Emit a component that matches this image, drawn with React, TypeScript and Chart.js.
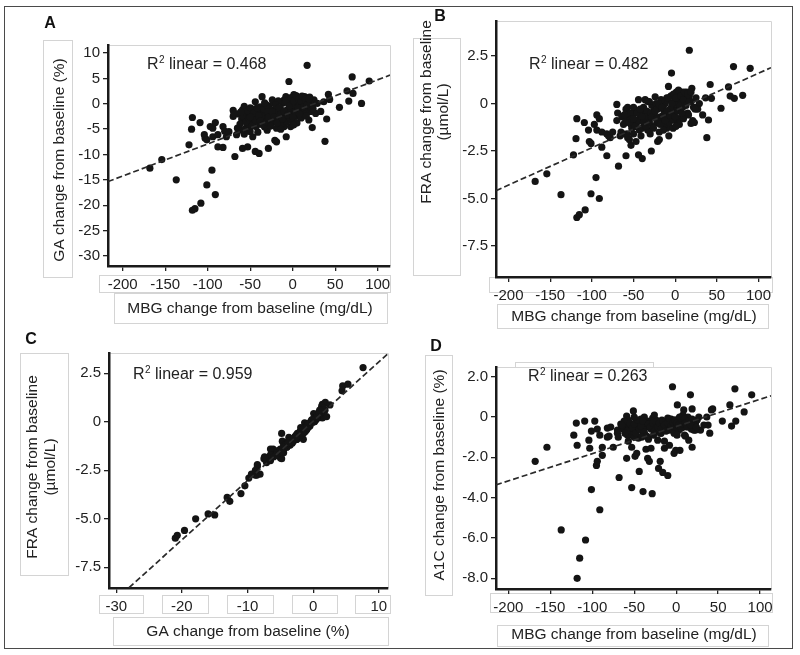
import React, { useEffect, useRef } from "react";
import { Chart, registerables } from "chart.js";

Chart.register(...registerables);

const FONT = '"Liberation Sans", Arial, Helvetica, sans-serif';

// One entry per patient: MBG, GA, FRA, A1C change from baseline
const MBG = [
  -168, -154, -137, -122, -118, -115, -108, -101, -95, -91,
  -118, -119, -109, -104, -103, -101, -97, -94, -91, -94,
  -88, -88, -82, -82, -80, -78, -75, -70, -70, -69,
  -68, -66, -63, -59, -57, -59, -53, -55, -53, -51,
  -49, -47, -45, -47, -44, -43, -41, -39.5, -44, -36,
  -36, -34, -32, -30, -28.6, -28, -26, -24, -22, -19,
  -21, -18, -16, -14, -12, -10, -10, -8, -8, -7.6,
  -4.4, -4.4, -2.5, -2.5, -0.5, 1.4, 1.4, 5, 9, 3.4,
  7, 11, 4.5, 17, 13, 17, 19, 15, 21, 23,
  19, 23, 25, 29, 27, 33, 36.5, 38, 40, 42,
  43.5, 55, 64, 66, 70, 71, 81, 90,
  -60, -56, -52, -48, -46, -42, -40, -38, -36, -34,
  -33, -31, -30, -27, -25, -23, -21, -19, -17, -15,
  -13, -11, -9, -7, -5, -3, -1, 0, 2, 3,
  5, 6, 8, 9, 10, 12, 14, 16, 18, 20,
  22, -64, -62, -58, -54, -50, -45, -37, -29, -14,
  -6, 1,
  -58, -55, -52, -50, -48, -46, -44, -42, -40, -38,
  -35, -33, -31, -28, -26, -24, -22, -20, -18, -16,
  -14, -12, -10, -8, -6, -4, -2, 0, 1, 3,
  4, 6, 7, 8, 10, 11, 13, 15, 17, 19,
  24, -65, -61, -57, -50, -41,
];

const GA = [
  -12.7, -11.0, -15.0, -8.1, -21.0, -20.7, -19.6, -16.0, -13.1, -17.9,
  -2.7, -5.0, -3.7, -6.1, -6.8, -7.1, -4.5, -4.8, -3.7, -6.5,
  -6.1, -8.5, -8.6, -4.5, -5.4, -6.5, -5.5, -1.3, -2.5, -1.9,
  -10.4, -6.1, -5.2, -1.2, -0.5, -8.8, -8.5, -4.8, -3.2, -1.9,
  -3.5, -2.5, -1.5, -6.5, 0.4, -4.5, -2.8, -9.8, -9.4, 1.4,
  -1.5, -3.2, -2.2, -5.2, -8.8, -0.5, -1.2, 0.8, -3.5, -7.5,
  -7.2, -2.2, -3.2, -1.2, 0.1, 0.8, -4.5, 1.4, -2.5, -6.5,
  4.4, -0.9, -1.9, -4.5, -3.2, 0.8, 1.8, 1.4, 0.8, -1.2,
  -0.5, -1.9, -2.5, 7.6, 0.8, 1.1, 0.4, -1.2, -1.5, -0.5,
  -3.2, -4.7, 0.8, 0.1, -1.9, -1.5, 0.4, -7.4, -3.0, 1.85,
  0.87, -0.7, 2.56, 0.53, 5.3, 2.05, 0.08, 4.5,
  -3.0, -2.2, -4.0, -1.0, -3.8, -2.0, -4.0, -0.6, -3.8, -1.0,
  -4.6, -0.2, -2.8, -3.8, -2.0, 0.2, -1.2, -4.8, 0.6, -2.5,
  -3.9, -1.8, 0.3, -3.5, 0.9, -2.8, 0.1, -1.5, -0.2, 1.0,
  -3.8, 0.4, 1.2, -1.0, -2.8, 0.2, 1.4, -2.4, 0.0, 1.3,
  -0.9, -2.0, -4.0, -5.2, -1.5, -5.5, -3.0, -2.5, -1.6, -5.0,
  -1.2, -4.2,
  -2.6, -3.6, -2.8, -0.8, -4.4, -1.8, -3.2, -0.8, -2.4, -3.4,
  -4.2, 0.2, -3.6, -2.6, -4.4, -1.6, -2.6, -0.2, -3.8, -0.8,
  -2.0, -3.0, -1.4, 0.6, -2.2, -0.4, 1.2, -2.6, 0.6, -1.6,
  1.6, -0.8, 0.9, -2.0, 0.5, 1.5, -0.6, 0.9, -0.2, 1.0,
  -1.0, -4.8, -1.6, -6.0, -2.6, -5.6,
];

const FRA = [
  -4.1, -3.7, -4.8, -2.7, -6.0, -5.85, -5.6, -4.75, -3.9, -5.0,
  -0.8, -1.85, -1.0, -1.4, -2.0, -2.1, -1.1, -0.6, -0.8, -1.4,
  -1.5, -2.3, -2.75, -1.6, -1.7, -1.8, -1.5, -0.05, -0.9, -0.5,
  -3.3, -1.7, -1.6, -0.3, -0.2, -2.75, -2.2, -1.9, -1.1, -0.6,
  -1.2, -0.9, -0.5, -2.0, 0.2, -1.4, -0.8, -2.9, -2.7, 0.2,
  -0.4, -1.0, -0.6, -1.6, -2.5, -0.1, -0.4, 0.35, -1.0, -1.9,
  -2.0, -0.7, -1.0, -0.3, 0.0, 0.3, -1.3, 0.9, -0.8, -1.7,
  1.6, -0.2, -0.5, -1.3, -0.9, 0.3, 0.6, 0.5, 0.3, -0.3,
  -0.1, -0.6, -0.8, 2.8, 0.2, 0.4, 0.1, -0.5, -0.9, -0.2,
  -1.05, -1.0, 0.3, 0.0, -0.3, -0.6, 0.3, -1.8, -0.87, 1.0,
  0.27, -0.25, 0.87, 0.39, 1.94, 0.27, 0.43, 1.85,
  -1.0, -0.8, -1.3, -0.4, -1.0, -0.6, -1.3, -0.2, -1.1, -0.4,
  -1.4, 0.1, -0.8, -1.2, -0.6, 0.0, -0.3, -1.5, 0.2, -0.7,
  -1.1, -0.5, 0.2, -1.0, 0.4, -0.8, 0.1, -0.4, 0.0, 0.5,
  -1.1, 0.2, 0.6, -0.2, -0.8, 0.1, 0.6, -0.6, 0.1, 0.8,
  -0.2, -0.7, -1.1, -1.6, -0.5, -1.6, -0.9, -0.7, -0.5, -1.4,
  -0.3, -1.2,
  -0.9, -1.0, -0.8, -0.2, -1.2, -0.5, -0.9, -0.3, -0.7, -1.0,
  -1.2, 0.1, -1.0, -0.7, -1.3, -0.4, -0.8, 0.0, -1.1, -0.2,
  -0.6, -0.9, -0.4, 0.3, -0.6, 0.0, 0.5, -0.7, 0.3, -0.4,
  0.7, -0.1, 0.4, -0.5, 0.2, 0.6, -0.1, 0.5, 0.1, 0.6,
  -0.3, -1.5, -0.6, -1.8, -0.8, -1.7,
];

const A1C = [
  -2.2, -1.5, -5.6, -0.9, -8.0, -7.0, -6.1, -3.6, -2.4, -4.6,
  -1.4, -0.3, -0.2, -1.15, -1.55, -0.7, -0.2, -0.6, -0.9, -2.2,
  -1.9, -1.5, -1.0, -0.55, -0.95, -0.5, -1.5, -0.65, -0.8, -1.0,
  -3.0, -0.35, -0.6, 0.05, -0.15, -2.05, -3.5, -0.65, -1.5, 0.3,
  -1.95, -0.5, -1.05, -1.8, -0.3, -0.4, -0.65, -3.7, -2.7, -0.5,
  -1.6, -2.05, -2.2, -1.55, -3.8, -0.05, 0.1, -0.15, -1.15, -2.2,
  -2.55, -0.8, -2.75, -1.55, -0.3, -0.05, -2.9, -1.4, -0.65, -0.4,
  1.5, -0.4, -0.8, -1.8, -1.65, -0.5, 0.6, -0.15, 0.35, -0.65,
  -0.3, -0.95, -1.65, 1.1, -0.15, -0.4, 0.4, -1.15, -0.65, -0.3,
  -1.5, -0.65, -0.15, -0.65, 0.0, -0.4, 0.0, -0.4, -0.8, 0.35,
  0.4, -0.2, 0.6, -0.45, 1.4, -0.2, 0.25, 1.1,
  -0.35, -0.5, -0.9, -0.25, -0.3, -0.1, -0.9, 0.0, -0.4, -0.2,
  -1.1, -0.3, -0.6, -0.9, -0.5, -0.2, -0.4, -0.8, -0.15, -0.3,
  -0.55, -0.35, -0.2, -0.6, -0.3, -0.5, -0.15, -0.4, -0.25, -0.1,
  -0.55, -0.35, 0.1, -0.5, -0.9, -0.3, 0.0, -0.45, -0.6, -0.25,
  -0.45, -0.45, -0.2, -0.9, -0.4, -1.0, -0.45, -0.3, -0.2, -1.2,
  -0.1, -0.9,
  -0.7, -0.3, -0.55, -0.35, -0.8, -0.15, -0.6, -0.45, -0.2, -0.75,
  -0.95, -0.35, -0.5, -0.3, -0.7, -0.25, -0.5, -0.3, -0.6, -0.2,
  -0.4, -0.7, -0.3, -0.1, -0.45, -0.25, -0.15, -0.5, -0.3, -0.4,
  0.0, -0.55, -0.2, -0.35, -0.1, -0.3, -0.5, -0.2, -0.4, -0.1,
  -0.5, -0.4, -0.8, -1.2, 0.0, -1.0,
];

// Tick values
const MBG_TICKS = [-200, -150, -100, -50, 0, 50, 100];
const GA_Y_TICKS = [10, 5, 0, -5, -10, -15, -20, -25, -30];
const FRA_TICKS = [2.5, 0, -2.5, -5, -7.5];
const GA_X_TICKS = [-30, -20, -10, 0, 10];
const A1C_TICKS = [2, 0, -2, -4, -6, -8];

// Fit lines as printed in the figure
const R2_LABELS = ["0.468", "0.482", "0.959", "0.263"];
const SLOPES = [0.0633, 0.0196, 0.306, 0.01349];
const INTERCEPTS = [-1.59, -0.37, 0.03, -0.47];

const fmtInt = (v: number) => String(v);
const fmtDec = (v: number) => (v === 0 ? "0" : v.toFixed(1));

type Box = [number, number, number, number];
type Panel = {
  ox: number; oy: number; w: number; h: number;
  area: [number, number, number, number];
  xs: number[]; ys: number[];
  xr: [number, number]; yr: [number, number];
  xt: number[]; yt: number[];
  fx: (v: number) => string; fy: (v: number) => string;
  letter: string; letterPos: [number, number];
  r2: string; r2Pos: [number, number];
  slope: number; intercept: number;
  xTitle: string; xTitlePos: [number, number];
  yTitle: [string, number, number][];
  boxes: Box[];
};

const PANELS: Panel[] = [
  {
    ox: 0, oy: 0, w: 400, h: 330, area: [108, 45, 390, 266],
    xs: MBG, ys: GA, xr: [-217.3, 114.5], yr: [-32.0, 11.6],
    xt: MBG_TICKS, yt: GA_Y_TICKS, fx: fmtInt, fy: fmtInt,
    letter: "A", letterPos: [50, 24],
    r2: R2_LABELS[0], r2Pos: [147, 65],
    slope: SLOPES[0], intercept: INTERCEPTS[0],
    xTitle: "MBG change from baseline (mg/dL)", xTitlePos: [250, 309],
    yTitle: [["GA change from baseline (%)", 60, 160]],
    boxes: [[43, 40, 72, 277], [99, 275, 390, 292], [114, 293, 387, 323]],
  },
  {
    ox: 400, oy: 0, w: 400, h: 330, area: [496, 21, 771, 277],
    xs: MBG, ys: FRA, xr: [-215, 115], yr: [-9.13, 4.34],
    xt: MBG_TICKS, yt: FRA_TICKS, fx: fmtInt, fy: fmtDec,
    letter: "B", letterPos: [440, 17],
    r2: R2_LABELS[1], r2Pos: [529, 65],
    slope: SLOPES[1], intercept: INTERCEPTS[1],
    xTitle: "MBG change from baseline (mg/dL)", xTitlePos: [634, 317],
    yTitle: [["FRA change from baseline", 427, 112], ["(\u00b5mol/L)", 444, 112]],
    boxes: [[413, 38, 460, 275], [489, 277, 772, 292], [497, 304, 768, 328]],
  },
  {
    ox: 0, oy: 330, w: 400, h: 325, area: [109, 353, 388, 588],
    xs: GA, ys: FRA, xr: [-31.1, 11.4], yr: [-8.57, 3.55],
    xt: GA_X_TICKS, yt: FRA_TICKS, fx: fmtInt, fy: fmtDec,
    letter: "C", letterPos: [31, 340],
    r2: R2_LABELS[2], r2Pos: [133, 375],
    slope: SLOPES[2], intercept: INTERCEPTS[2],
    xTitle: "GA change from baseline (%)", xTitlePos: [248, 632],
    yTitle: [["FRA change from baseline", 33, 467], ["(\u00b5mol/L)", 51, 467]],
    boxes: [
      [20, 353, 68, 575],
      [99, 595, 143, 613], [162, 595, 208, 613], [227, 595, 273, 613],
      [292, 595, 337, 613], [355, 595, 390, 613],
      [113, 617, 388, 645],
    ],
  },
  {
    ox: 400, oy: 330, w: 400, h: 325, area: [496, 367, 771, 589],
    xs: MBG, ys: A1C, xr: [-214.7, 113], yr: [-8.53, 2.48],
    xt: MBG_TICKS, yt: A1C_TICKS, fx: fmtInt, fy: fmtDec,
    letter: "D", letterPos: [436, 347],
    r2: R2_LABELS[3], r2Pos: [528, 377],
    slope: SLOPES[3], intercept: INTERCEPTS[3],
    xTitle: "MBG change from baseline (mg/dL)", xTitlePos: [634, 635],
    yTitle: [["A1C change from baseline (%)", 440, 475]],
    boxes: [[425, 355, 452, 595], [515, 362, 653, 367], [490, 593, 772, 612], [497, 625, 768, 646]],
  },
];

const Y_W = 55;
const X_H = 30;
const TEXT = "#222";

function makeConfig(p: Panel): any {
  const [l, t, r, b] = p.area;
  const lx = l - p.ox, ty = t - p.oy, rx = r - p.ox, by = b - p.oy;
  const x0 = p.xr[0], x1 = p.xr[1];
  const points = p.xs.map((x, i) => ({ x, y: p.ys[i] }));
  const fit = [
    { x: x0, y: p.slope * x0 + p.intercept },
    { x: x1, y: p.slope * x1 + p.intercept },
  ];

  const decor = {
    id: "decor",
    beforeDraw(chart: any) {
      const ctx = chart.ctx;
      ctx.save();
      ctx.strokeStyle = "#d4d4d4";
      ctx.lineWidth = 1;
      for (const [a1, b1, a2, b2] of p.boxes) {
        ctx.strokeRect(a1 - p.ox + 0.5, b1 - p.oy + 0.5, a2 - a1, b2 - b1);
      }
      const a = chart.chartArea;
      ctx.beginPath();
      ctx.moveTo(a.left, a.top + 0.5);
      ctx.lineTo(a.right + 0.5, a.top + 0.5);
      ctx.lineTo(a.right + 0.5, a.bottom);
      ctx.stroke();
      ctx.restore();
    },
    afterDraw(chart: any) {
      const ctx = chart.ctx;
      ctx.save();
      ctx.fillStyle = "#111";
      ctx.textAlign = "center";
      ctx.textBaseline = "middle";
      ctx.font = `bold 16px ${FONT}`;
      ctx.fillText(p.letter, p.letterPos[0] - p.ox, p.letterPos[1] - p.oy);

      ctx.fillStyle = TEXT;
      ctx.font = `15.5px ${FONT}`;
      ctx.fillText(p.xTitle, p.xTitlePos[0] - p.ox, p.xTitlePos[1] - p.oy);
      for (const [txt, cx, cy] of p.yTitle) {
        ctx.save();
        ctx.translate(cx - p.ox, cy - p.oy);
        ctx.rotate(-Math.PI / 2);
        ctx.fillText(txt, 0, 0);
        ctx.restore();
      }

      // R² label
      ctx.textAlign = "left";
      let x = p.r2Pos[0] - p.ox;
      const y = p.r2Pos[1] - p.oy;
      ctx.font = `16px ${FONT}`;
      ctx.fillText("R", x, y);
      x += ctx.measureText("R").width;
      ctx.font = `10px ${FONT}`;
      ctx.fillText("2", x + 0.5, y - 5);
      x += ctx.measureText("2").width + 0.5;
      ctx.font = `16px ${FONT}`;
      ctx.fillText(" linear = " + p.r2, x, y);
      ctx.restore();
    },
  };

  return {
    type: "scatter",
    data: {
      datasets: [
        {
          data: fit,
          showLine: true,
          borderColor: "#2a2a2a",
          borderWidth: 1.7,
          borderDash: [6, 3],
          pointRadius: 0,
          fill: false,
          order: 0,
        },
        {
          data: points,
          pointRadius: 3.6,
          pointHoverRadius: 3.6,
          backgroundColor: "#141414",
          borderWidth: 0,
          order: 1,
        },
      ],
    },
    options: {
      responsive: false,
      animation: false,
      devicePixelRatio: 1,
      events: [],
      layout: {
        padding: { left: lx - Y_W, top: ty, right: p.w - rx, bottom: p.h - by - X_H },
      },
      plugins: { legend: { display: false }, tooltip: { enabled: false } },
      scales: {
        x: {
          type: "linear",
          min: p.xr[0],
          max: p.xr[1],
          afterBuildTicks: (s: any) => { s.ticks = p.xt.map((v) => ({ value: v })); },
          afterFit: (s: any) => { s.height = X_H; },
          grid: { display: true, drawOnChartArea: false, drawTicks: true, tickLength: 5, color: "#222", lineWidth: 1.3 },
          border: { display: true, color: "#1a1a1a", width: 2.5 },
          ticks: {
            color: TEXT, font: { family: FONT, size: 15 }, padding: 5,
            maxRotation: 0, autoSkip: false, callback: (v: any) => p.fx(Number(v)),
          },
        },
        y: {
          type: "linear",
          min: p.yr[0],
          max: p.yr[1],
          afterBuildTicks: (s: any) => { s.ticks = p.yt.map((v) => ({ value: v })); },
          afterFit: (s: any) => { s.width = Y_W; },
          grid: { display: true, drawOnChartArea: false, drawTicks: true, tickLength: 5, color: "#222", lineWidth: 1.3 },
          border: { display: true, color: "#1a1a1a", width: 2.5 },
          ticks: {
            color: TEXT, font: { family: FONT, size: 15 }, padding: 3,
            autoSkip: false, callback: (v: any) => p.fy(Number(v)),
          },
        },
      },
    },
    plugins: [decor],
  };
}

function PanelChart({ p }: { p: Panel }) {
  const ref = useRef<HTMLCanvasElement | null>(null);
  useEffect(() => {
    if (!ref.current) return;
    const chart = new Chart(ref.current, makeConfig(p));
    return () => chart.destroy();
  }, [p]);
  return (
    <canvas
      ref={ref}
      width={p.w}
      height={p.h}
      style={{ position: "absolute", left: p.ox, top: p.oy, width: p.w, height: p.h }}
    />
  );
}

export default function App() {
  return (
    <div style={{ position: "absolute", left: 0, top: 0, width: 800, height: 655, background: "#fff", overflow: "hidden" }}>
      {PANELS.map((p, i) => (
        <PanelChart key={i} p={p} />
      ))}
      <div
        style={{
          position: "absolute", left: 4, top: 6, width: 789, height: 643,
          border: "1.5px solid #4a4a4a", boxSizing: "border-box", pointerEvents: "none",
        }}
      />
    </div>
  );
}
